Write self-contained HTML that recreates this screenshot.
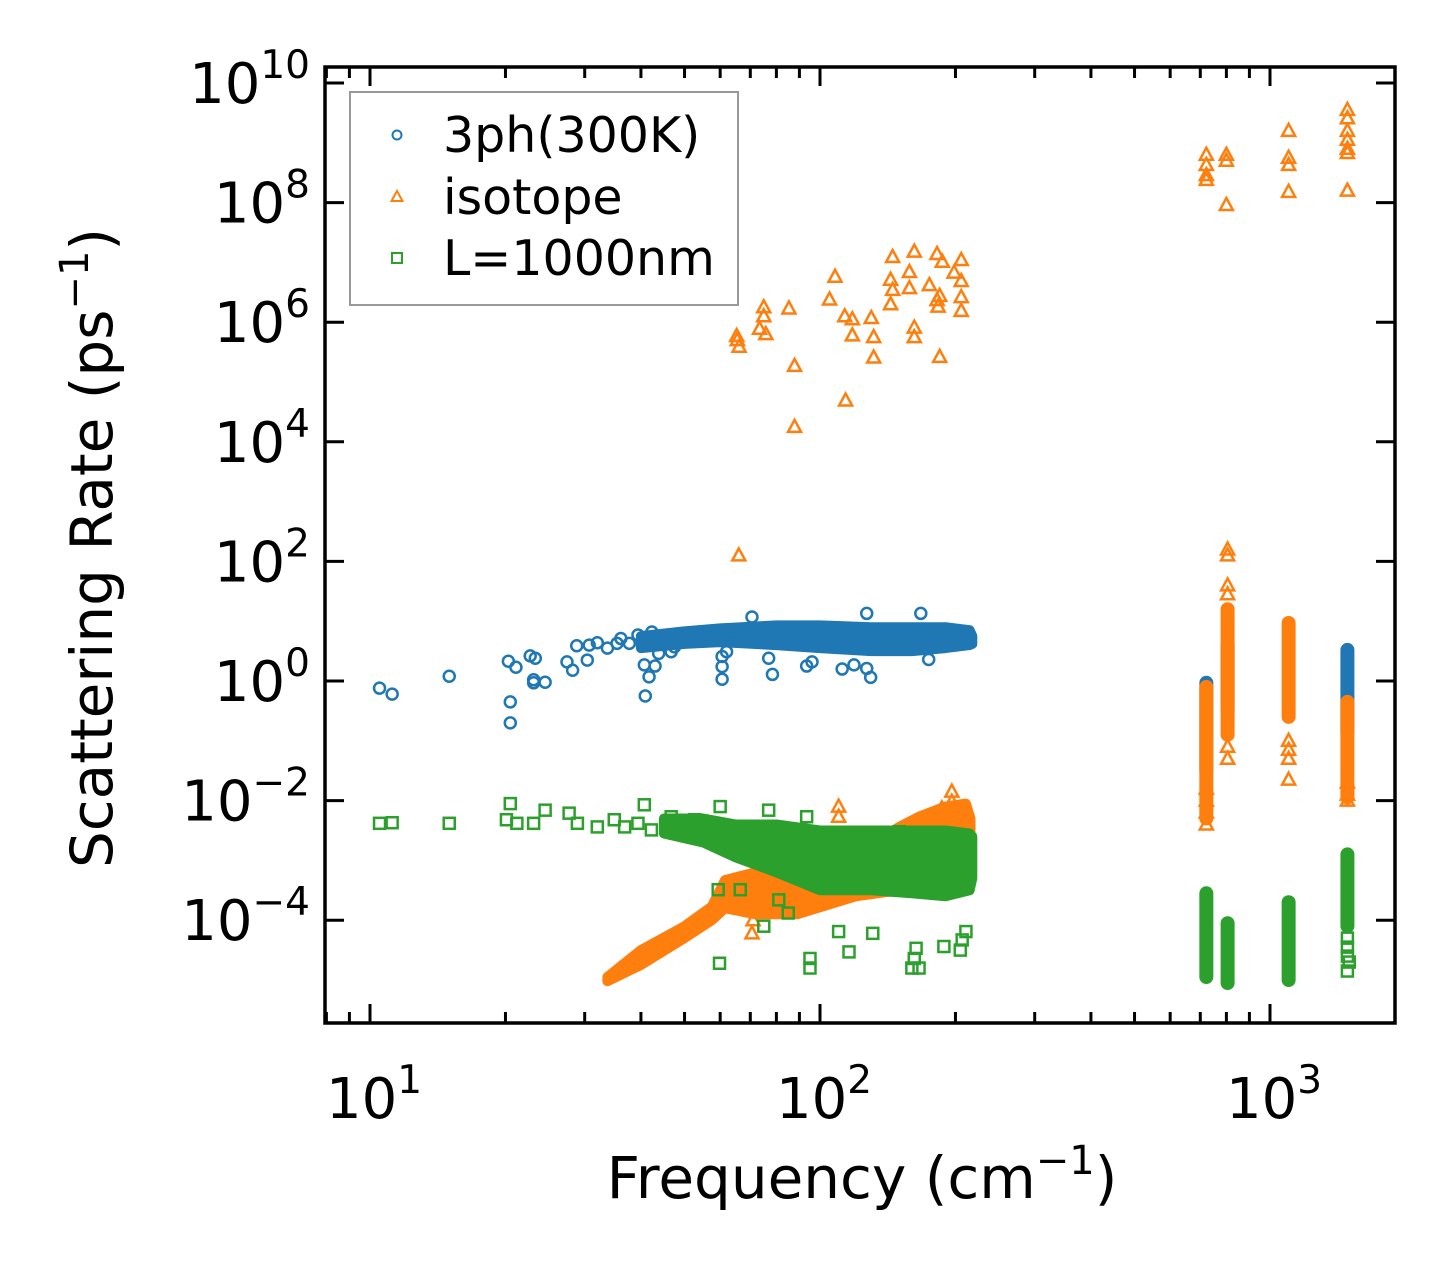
<!DOCTYPE html>
<html><head><meta charset="utf-8"><style>
html,body{margin:0;padding:0;background:#fff;}
svg{display:block;font-family:"DejaVu Sans","Liberation Sans",sans-serif;}
</style></head><body>
<svg id="chart" width="1455" height="1273" viewBox="0 0 1455 1273" xmlns="http://www.w3.org/2000/svg">
<rect width="1455" height="1273" fill="#fff"/>
<g id="marks"></g>
<g id="axes"></g>
<g id="legend">
<rect x="350" y="92" width="388" height="213" fill="#fff" stroke="#999" stroke-width="2"/>
<circle cx="397" cy="135" r="4.5" fill="none" stroke="#1f77b4" stroke-width="2"/>
<text x="443" y="152" font-size="49">3ph(300K)</text>
<path d="M397,191 L402.5,201 L391.5,201 Z" fill="none" stroke="#ff7f0e" stroke-width="2"/>
<text x="443" y="214" font-size="49">isotope</text>
<rect x="392" y="253" width="10" height="10" fill="none" stroke="#2ca02c" stroke-width="2"/>
<text x="443" y="275" font-size="49">L=1000nm</text>
</g>
<text x="862" y="1198" font-size="58" text-anchor="middle">Frequency (cm<tspan dy="-24" font-size="40">−1</tspan><tspan dy="24">)</tspan></text>
<text transform="translate(112,548) rotate(-90)" font-size="58" text-anchor="middle">Scattering Rate (ps<tspan dy="-24" font-size="40">−1</tspan><tspan dy="24">)</tspan></text>
</svg>
<script>
// ---- data (frequency in cm^-1, log10 of rate in ps^-1) ----
const threePhPoints = [[10.5,-0.12],[11.2,-0.22],[15,0.08],[20.3,0.33],[21.1,0.23],[20.5,-0.35],[20.5,-0.70],[22.7,0.42],[23.3,0.38],[23.1,0.02],[23.1,-0.03],[24.5,-0.02],[27.4,0.32],[28.2,0.18],[28.8,0.59],[30.4,0.35],[30.7,0.60],[32,0.64],[33.7,0.55],[35.4,0.63],[36.1,0.71],[37.7,0.63],[39.4,0.77],[42.3,0.82],[40.7,0.27],[43.0,0.25],[41.7,0.07],[40.9,-0.25],[43.8,0.46],[46.7,0.49],[47.5,0.57],[60.6,0.41],[60.6,0.24],[60.6,0.03],[62.0,0.49],[76.9,0.38],[78.4,0.11],[70.6,1.07],[127,1.13],[167.5,1.13],[93.4,0.25],[96,0.32],[112,0.20],[119,0.27],[127,0.21],[129.6,0.06],[174.4,0.36]];
const threePhBandFreq = [40,50,60,80,100,130,160,190,215,218];
const threePhBandHi = [0.75,0.83,0.88,0.93,0.93,0.9,0.9,0.9,0.85,0.75];
const threePhBandLo = [0.55,0.62,0.65,0.6,0.55,0.5,0.5,0.55,0.6,0.62];
const threePhStripes = [[722,-1.5,-0.03],[805,-0.5,0.6],[1486,-0.87,0.52]];

const isotopePoints = [[65.3,5.77],[65.5,5.70],[66.1,5.59],[75.0,6.25],[75.0,6.10],[73.4,5.89],[75.8,5.80],[85.3,6.23],[87.8,5.27],[108,6.76],[105,6.38],[113.5,6.10],[118,6.05],[118,5.78],[130,6.07],[131.6,5.75],[131.6,5.41],[145,7.09],[143.5,6.71],[145,6.54],[143.5,6.30],[162,7.18],[158,6.84],[158,6.57],[175,6.62],[162,5.91],[162,5.75],[182,7.14],[187,7.01],[198.6,6.83],[206,7.04],[206,6.69],[206,6.42],[206,6.19],[184.5,6.44],[182,6.37],[183,6.26],[184.5,5.42],[114,4.69],[87.8,4.25],[66,2.1],
[722,8.8],[722,8.63],[722,8.46],[722,8.38],[800,8.8],[800,8.7],[800,7.96],[1100,9.2],[1100,8.75],[1100,8.63],[1100,8.18],[1486,9.55],[1486,9.41],[1486,9.2],[1486,9.05],[1486,8.9],[1486,8.83],[1486,8.2],
[110,-2.10],[110,-2.27],[186.5,-2.13],[196.3,-1.85],[196.3,-2.02],[70.6,-4.22],[71,-4.0],
[722,-1.8],[722,-2.0],[722,-2.2],[722,-2.4],[805,2.2],[805,2.1],[805,1.6],[805,1.45],[805,-1.1],[805,-1.3],[1100,-1.0],[1100,-1.15],[1100,-1.3],[1100,-1.65],[1486,-1.7],[1486,-1.9],[1486,-2.0]];
const isotopeBandFreq = [33.7,40,50,57.5,61.5,71.7,89,120,150,166,190,211,216];
const isotopeBandHi = [-4.95,-4.5,-4.1,-3.77,-3.33,-3.2,-3.2,-2.9,-2.44,-2.27,-2.1,-2.05,-2.3];
const isotopeBandLo = [-5.02,-4.75,-4.3,-4.0,-3.8,-3.9,-3.9,-3.6,-3.5,-3.5,-3.5,-3.5,-3.4];
const isotopeStripes = [[722,-2.3,-0.1],[805,-0.9,1.2],[1100,-0.6,0.97],[1486,-1.95,-0.35]];

const boundaryPoints = [[10.5,-2.38],[11.2,-2.37],[15,-2.38],[20.1,-2.32],[21.2,-2.38],[23.1,-2.38],[27.7,-2.21],[28.9,-2.38],[32,-2.44],[34.9,-2.32],[36.8,-2.44],[39.4,-2.38],[42.2,-2.49],[46.7,-2.27],[50,-2.38],[52.7,-2.32],[20.5,-2.05],[24.5,-2.16],[40.7,-2.07],[60,-2.10],[76.9,-2.16],[93.4,-2.27],[150,-2.52],
[59.8,-4.72],[95,-4.64],[95,-4.80],[116,-4.53],[160,-4.80],[166,-4.80],[162,-4.64],[163.5,-4.47],[205,-4.5],[207,-4.33],[75.0,-4.10],[59.4,-3.49],[66.5,-3.49],[81,-3.66],[85.0,-3.88],[110,-4.19],[131,-4.22],[188.5,-4.44],[211,-4.19],
[1486,-4.3],[1486,-4.45],[1486,-4.6],[1486,-4.85],[1500,-4.7]];
const boundaryBandFreq = [45,55,65,80,100,130,160,190,215,218];
const boundaryBandHi = [-2.3,-2.3,-2.4,-2.4,-2.5,-2.5,-2.5,-2.5,-2.55,-2.6];
const boundaryBandLo = [-2.55,-2.7,-2.95,-3.2,-3.5,-3.5,-3.55,-3.6,-3.5,-3.3];
const boundaryStripes = [[722,-4.95,-3.55],[805,-5.05,-4.05],[1100,-5.0,-3.7],[1486,-4.1,-2.9]];

const xTickExps = [1,2,3];
const yTickExps = [-4,-2,0,2,4,6,8,10];

// ---- axes ----
const L=325,R=1395,T=67,B=1023;
const X0=370, XDEC=450;
const Y0=681, YDEC=59.8;
const xs = f => X0 + (Math.log10(f)-1)*XDEC;
const ys = e => Y0 - e*YDEC;
const NS='http://www.w3.org/2000/svg';
function mk(tag, attrs, parent){const el=document.createElementNS(NS,tag);for(const k in attrs)el.setAttribute(k,attrs[k]);parent.appendChild(el);return el;}
const marks=document.getElementById('marks');
const axes=document.getElementById('axes');

function band(freq,hi,lo,color,name){
  let d='M'+freq.map((f,i)=>xs(f).toFixed(1)+','+ys(hi[i]).toFixed(1)).join(' L');
  for(let i=freq.length-1;i>=0;i--) d+=' L'+xs(freq[i]).toFixed(1)+','+ys(lo[i]).toFixed(1);
  d+=' Z';
  const el=mk('path',{d:d,fill:color,stroke:color,'stroke-width':10,'stroke-linejoin':'round'},marks);
  
  
}
function stripes(arr,color,name){
  arr.forEach(s=>{
    const el=mk('line',{x1:xs(s[0]),x2:xs(s[0]),y1:ys(s[2]),y2:ys(s[1]),stroke:color,'stroke-width':14,'stroke-linecap':'round'},marks);
    
    
  });
}
function points(arr,color,shape,name){
  arr.forEach(p=>{
    const x=xs(p[0]),y=ys(p[1]);let el;
    if(shape==='o') el=mk('circle',{cx:x,cy:y,r:5.5,fill:'none',stroke:color,'stroke-width':2.5},marks);
    else if(shape==='^') el=mk('path',{d:`M${x},${y-7} L${x+6.5},${y+5} L${x-6.5},${y+5} Z`,fill:'none',stroke:color,'stroke-width':2.5},marks);
    else el=mk('rect',{x:x-5.5,y:y-5.5,width:11,height:11,fill:'none',stroke:color,'stroke-width':2.5},marks);
    
    
  });
}
const BLUE='#1f77b4',ORANGE='#ff7f0e',GREEN='#2ca02c';
band(threePhBandFreq,threePhBandHi,threePhBandLo,BLUE,'3ph-dense-band');
stripes(threePhStripes,BLUE,'3ph-optical-stripe');
points(threePhPoints,BLUE,'o','3ph-point');
band(isotopeBandFreq,isotopeBandHi,isotopeBandLo,ORANGE,'isotope-dense-band');
stripes(isotopeStripes,ORANGE,'isotope-optical-stripe');
points(isotopePoints,ORANGE,'^','isotope-point');
band(boundaryBandFreq,boundaryBandHi,boundaryBandLo,GREEN,'boundary-dense-band');
stripes(boundaryStripes,GREEN,'boundary-optical-stripe');
points(boundaryPoints,GREEN,'s','boundary-point');

for(let d=0; d<=3; d++){
  for(let m=1;m<=9;m++){
    const f=m*Math.pow(10,d);const x=xs(f);
    if(x<L||x>R) continue;
    const len=(m===1)?19:11;
    const t1=mk('line',{x1:x,x2:x,y1:B,y2:B-len,stroke:'#000','stroke-width':3},axes);
    
    
    const t2=mk('line',{x1:x,x2:x,y1:T,y2:T+len,stroke:'#000','stroke-width':3},axes);
    
    
  }
}
xTickExps.forEach(e=>{
  const x=xs(Math.pow(10,e));
  const t=mk('text',{x:x+4,y:1118,'font-size':56,'text-anchor':'middle'},axes);
  
  
  t.innerHTML='10<tspan dy="-25" font-size="39">'+e+'</tspan>';
});
yTickExps.forEach(e=>{
  const y=ys(e);
  const t1=mk('line',{x1:L,x2:L+19,y1:y,y2:y,stroke:'#000','stroke-width':3},axes);
  
  
  const t2=mk('line',{x1:R,x2:R-19,y1:y,y2:y,stroke:'#000','stroke-width':3},axes);
  
  
  const t=mk('text',{x:310,y:y+20,'font-size':56,'text-anchor':'end'},axes);
  
  
  t.innerHTML='10<tspan dy="-25" font-size="39">'+(e<0?'−'+(-e):e)+'</tspan>';
});
const frame=mk('rect',{x:L,y:T,width:R-L,height:B-T,fill:'none',stroke:'#000','stroke-width':3.5},axes);


document.getElementById('chart').appendChild(document.getElementById('legend'));
</script>
</body></html>
